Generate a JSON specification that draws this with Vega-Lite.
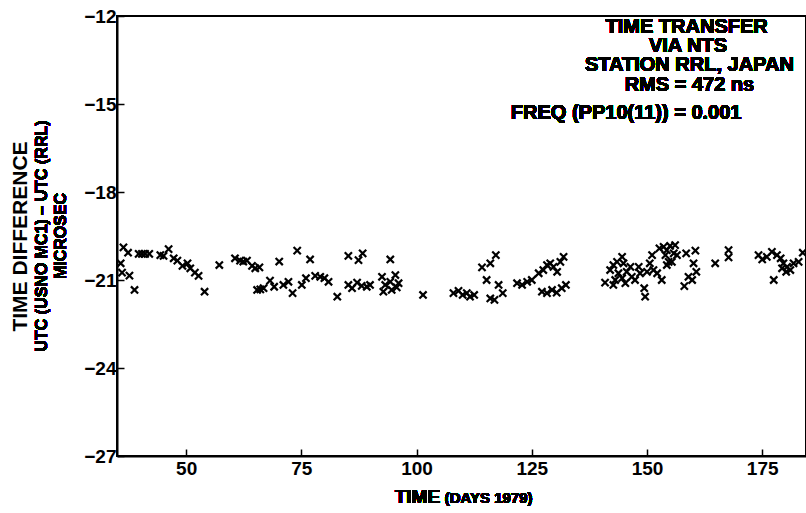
{
  "$schema": "https://vega.github.io/schema/vega-lite/v6.json",
  "width": 689,
  "height": 440,
  "autosize": {"type": "none"},
  "padding": {"left": 117, "top": 16, "right": 0, "bottom": 57},
  "background": "white",
  "config": {
    "view": {"stroke": "black", "strokeWidth": 2},
    "font": "Liberation Sans",
    "axis": {"grid": false, "domainColor": "black", "domainWidth": 2, "tickColor": "black", "tickWidth": 1.5, "labelColor": "black", "labelFont": "Liberation Sans", "labelFontWeight": "bold", "labelFontSize": 19}
  },
  "data": {"values": [
    {"day": 36.4, "diff": -19.89}, {"day": 37.4, "diff": -20.07}, {"day": 35.8, "diff": -20.43}, {"day": 36.1, "diff": -20.75},
    {"day": 37.7, "diff": -20.85}, {"day": 38.8, "diff": -21.34}, {"day": 39.7, "diff": -20.11}, {"day": 40.4, "diff": -20.11},
    {"day": 41.1, "diff": -20.11}, {"day": 42.0, "diff": -20.11}, {"day": 44.4, "diff": -20.15}, {"day": 45.1, "diff": -20.18},
    {"day": 46.2, "diff": -19.95}, {"day": 47.3, "diff": -20.26}, {"day": 48.1, "diff": -20.34}, {"day": 49.2, "diff": -20.52},
    {"day": 50.3, "diff": -20.43}, {"day": 50.9, "diff": -20.6}, {"day": 51.9, "diff": -20.75}, {"day": 52.7, "diff": -20.86},
    {"day": 54.0, "diff": -21.4}, {"day": 57.2, "diff": -20.49}, {"day": 60.6, "diff": -20.26}, {"day": 61.7, "diff": -20.34},
    {"day": 62.4, "diff": -20.37}, {"day": 63.2, "diff": -20.34}, {"day": 64.3, "diff": -20.52}, {"day": 65.0, "diff": -20.6},
    {"day": 65.9, "diff": -20.57}, {"day": 65.4, "diff": -21.34}, {"day": 66.1, "diff": -21.32}, {"day": 66.8, "diff": -21.28},
    {"day": 68.2, "diff": -21.02}, {"day": 69.1, "diff": -21.23}, {"day": 70.2, "diff": -20.37}, {"day": 71.1, "diff": -21.17},
    {"day": 72.2, "diff": -21.06}, {"day": 73.1, "diff": -21.45}, {"day": 74.1, "diff": -20.0}, {"day": 75.1, "diff": -21.17},
    {"day": 76.0, "diff": -20.94}, {"day": 76.9, "diff": -20.3}, {"day": 78.0, "diff": -20.86}, {"day": 79.1, "diff": -20.89},
    {"day": 80.0, "diff": -20.94}, {"day": 80.9, "diff": -21.06}, {"day": 82.8, "diff": -21.57}, {"day": 85.2, "diff": -20.18},
    {"day": 85.2, "diff": -21.17}, {"day": 87.4, "diff": -20.32}, {"day": 88.3, "diff": -20.09}, {"day": 86.0, "diff": -21.28},
    {"day": 87.1, "diff": -21.09}, {"day": 88.1, "diff": -21.2}, {"day": 89.2, "diff": -21.23}, {"day": 89.9, "diff": -21.17},
    {"day": 94.3, "diff": -20.3}, {"day": 92.5, "diff": -20.89}, {"day": 93.2, "diff": -21.17}, {"day": 94.3, "diff": -21.06},
    {"day": 95.4, "diff": -20.83}, {"day": 96.1, "diff": -21.11}, {"day": 92.8, "diff": -21.4}, {"day": 94.6, "diff": -21.34},
    {"day": 95.7, "diff": -21.25}, {"day": 101.4, "diff": -21.51}, {"day": 108.0, "diff": -21.45}, {"day": 109.1, "diff": -21.37},
    {"day": 110.0, "diff": -21.51}, {"day": 110.9, "diff": -21.45}, {"day": 111.6, "diff": -21.57}, {"day": 112.5, "diff": -21.51},
    {"day": 114.2, "diff": -20.57}, {"day": 116.0, "diff": -20.43}, {"day": 117.2, "diff": -20.15}, {"day": 115.2, "diff": -21.0},
    {"day": 117.8, "diff": -21.17}, {"day": 116.0, "diff": -21.63}, {"day": 116.9, "diff": -21.68}, {"day": 118.7, "diff": -21.45},
    {"day": 121.8, "diff": -21.11}, {"day": 122.9, "diff": -21.17}, {"day": 124.0, "diff": -21.06}, {"day": 125.0, "diff": -21.0},
    {"day": 126.5, "diff": -20.77}, {"day": 127.5, "diff": -20.66}, {"day": 128.3, "diff": -20.49}, {"day": 129.0, "diff": -20.43},
    {"day": 129.7, "diff": -20.55}, {"day": 130.5, "diff": -20.72}, {"day": 131.2, "diff": -20.38}, {"day": 131.9, "diff": -20.21},
    {"day": 127.2, "diff": -21.4}, {"day": 128.3, "diff": -21.45}, {"day": 129.4, "diff": -21.34}, {"day": 130.4, "diff": -21.43},
    {"day": 131.5, "diff": -21.28}, {"day": 132.4, "diff": -21.17}, {"day": 140.9, "diff": -21.09}, {"day": 142.0, "diff": -20.66},
    {"day": 142.7, "diff": -20.49}, {"day": 143.5, "diff": -20.38}, {"day": 144.6, "diff": -20.21}, {"day": 144.9, "diff": -20.43},
    {"day": 143.8, "diff": -20.77}, {"day": 143.1, "diff": -21.0}, {"day": 144.6, "diff": -20.94}, {"day": 145.6, "diff": -20.72},
    {"day": 146.4, "diff": -20.55}, {"day": 146.7, "diff": -20.89}, {"day": 147.4, "diff": -21.0}, {"day": 148.2, "diff": -20.55},
    {"day": 148.5, "diff": -20.77}, {"day": 142.7, "diff": -21.17}, {"day": 145.3, "diff": -21.11}, {"day": 149.4, "diff": -21.28},
    {"day": 149.6, "diff": -21.57}, {"day": 150.6, "diff": -20.43}, {"day": 151.1, "diff": -20.15}, {"day": 150.0, "diff": -20.72},
    {"day": 151.4, "diff": -20.66}, {"day": 152.2, "diff": -20.77}, {"day": 152.7, "diff": -19.92}, {"day": 153.6, "diff": -19.87},
    {"day": 154.3, "diff": -19.98}, {"day": 155.0, "diff": -19.84}, {"day": 156.1, "diff": -19.81}, {"day": 155.8, "diff": -20.09},
    {"day": 156.5, "diff": -20.15}, {"day": 154.0, "diff": -20.15}, {"day": 154.7, "diff": -20.38}, {"day": 154.3, "diff": -20.49},
    {"day": 153.2, "diff": -21.0}, {"day": 155.4, "diff": -20.38}, {"day": 158.5, "diff": -20.09}, {"day": 160.5, "diff": -20.0},
    {"day": 160.1, "diff": -20.43}, {"day": 160.7, "diff": -20.72}, {"day": 159.0, "diff": -20.89}, {"day": 158.1, "diff": -21.21},
    {"day": 159.8, "diff": -21.0}, {"day": 164.8, "diff": -20.43}, {"day": 167.7, "diff": -19.98}, {"day": 167.7, "diff": -20.23},
    {"day": 174.2, "diff": -20.15}, {"day": 175.0, "diff": -20.3}, {"day": 176.0, "diff": -20.21}, {"day": 177.1, "diff": -20.04},
    {"day": 178.2, "diff": -20.15}, {"day": 179.0, "diff": -20.26}, {"day": 179.6, "diff": -20.43}, {"day": 180.4, "diff": -20.55},
    {"day": 181.1, "diff": -20.66}, {"day": 179.3, "diff": -20.6}, {"day": 180.2, "diff": -20.72}, {"day": 181.8, "diff": -20.43},
    {"day": 182.9, "diff": -20.38}, {"day": 183.8, "diff": -20.07}, {"day": 177.5, "diff": -21.0}
  ]},
  "layer": [
    {
      "mark": {"type": "point", "shape": "M-1,-1L1,1M1,-1L-1,1", "filled": false, "stroke": "black", "strokeWidth": 2.2, "size": 52, "opacity": 1},
      "encoding": {
        "x": {"field": "day", "type": "quantitative", "scale": {"domain": [35, 184.5], "nice": false, "zero": false},
          "axis": {"values": [50, 75, 100, 125, 150, 175], "tickSize": -7, "labelPadding": 10, "title": null}},
        "y": {"field": "diff", "type": "quantitative", "scale": {"domain": [-27, -12], "nice": false, "zero": false},
          "axis": {"values": [-12, -15, -18, -21, -24, -27], "tickSize": -7, "labelPadding": 8,
            "title": "TIME DIFFERENCE", "titleFontSize": 21, "titleFontWeight": "bold", "titleColor": "black",
            "titleX": -97, "titleY": 220, "titleAngle": 270, "titleAlign": "center", "titleBaseline": "middle"}}
      }
    },
    {
      "mark": {"type": "text", "text": "UTC (USNO MC1) \u2013 UTC (RRL)", "angle": 270, "fontSize": 16, "fontWeight": "bold", "color": "black", "align": "center", "baseline": "middle"},
      "encoding": {"x": {"datum": 18.8}, "y": {"datum": -19.5}}
    },
    {
      "mark": {"type": "text", "text": "MICROSEC", "angle": 270, "fontSize": 16, "fontWeight": "bold", "color": "black", "align": "center", "baseline": "middle"},
      "encoding": {"x": {"datum": 22.8}, "y": {"datum": -19.5}}
    },
    {
      "mark": {"type": "text", "text": "TIME", "fontSize": 19, "fontWeight": "bold", "color": "black", "align": "right", "baseline": "alphabetic"},
      "encoding": {"x": {"datum": 105.1}, "y": {"datum": -28.6}}
    },
    {
      "mark": {"type": "text", "text": "(DAYS 1979)", "fontSize": 15, "fontWeight": "bold", "color": "black", "align": "left", "baseline": "alphabetic"},
      "encoding": {"x": {"datum": 106.1}, "y": {"datum": -28.6}}
    },
    {
      "mark": {"type": "text", "text": "TIME TRANSFER", "fontSize": 20, "fontWeight": "bold", "color": "black", "align": "center", "baseline": "alphabetic"},
      "encoding": {"x": {"datum": 158.6}, "y": {"datum": -12.58}}
    },
    {
      "mark": {"type": "text", "text": "VIA NTS", "fontSize": 20, "fontWeight": "bold", "color": "black", "align": "center", "baseline": "alphabetic"},
      "encoding": {"x": {"datum": 158.9}, "y": {"datum": -13.23}}
    },
    {
      "mark": {"type": "text", "text": "STATION RRL, JAPAN", "fontSize": 20, "fontWeight": "bold", "color": "black", "align": "center", "baseline": "alphabetic"},
      "encoding": {"x": {"datum": 159.2}, "y": {"datum": -13.88}}
    },
    {
      "mark": {"type": "text", "text": "RMS = 472 ns", "fontSize": 20, "fontWeight": "bold", "color": "black", "align": "center", "baseline": "alphabetic"},
      "encoding": {"x": {"datum": 159.2}, "y": {"datum": -14.56}}
    },
    {
      "mark": {"type": "text", "text": "FREQ (PP10(11)) = 0.001", "fontSize": 20, "fontWeight": "bold", "color": "black", "align": "right", "baseline": "alphabetic"},
      "encoding": {"x": {"datum": 170.5}, "y": {"datum": -15.5}}
    }
  ]
}
